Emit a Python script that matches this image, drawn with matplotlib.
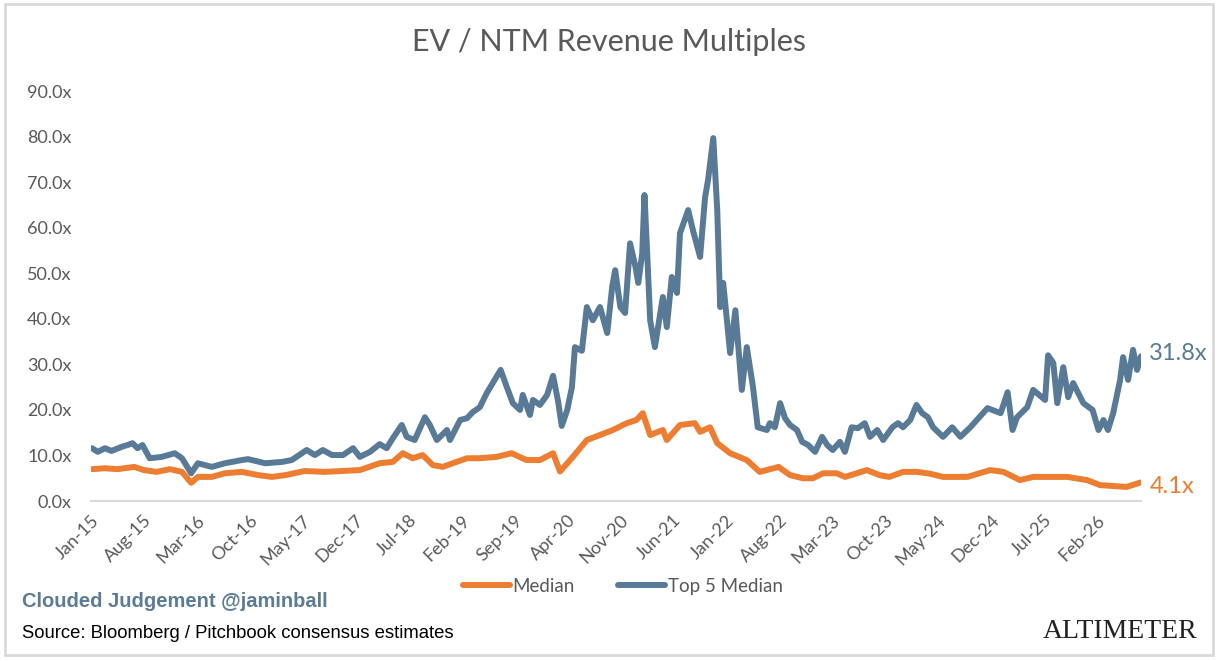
import matplotlib
matplotlib.use("Agg")
import matplotlib.pyplot as plt
import pandas as pd
from matplotlib.patches import Rectangle

# ---------------- data ----------------
top5_dates = [
    "2015-01-05", "2015-01-28", "2015-02-26", "2015-03-24", "2015-05-04", "2015-05-28",
    "2015-06-17", "2015-07-07", "2015-07-27", "2015-08-25", "2015-10-13", "2015-12-04",
    "2016-01-02", "2016-02-08", "2016-03-06", "2016-05-01", "2016-06-23", "2016-08-30",
    "2016-09-24", "2016-12-02", "2017-02-09", "2017-03-19", "2017-05-18", "2017-06-20",
    "2017-07-22", "2017-08-28", "2017-10-11", "2017-11-21", "2017-12-18", "2018-01-28",
    "2018-03-08", "2018-04-05", "2018-04-30", "2018-06-05", "2018-06-25", "2018-07-27",
    "2018-09-06", "2018-09-26", "2018-10-24", "2018-12-04", "2018-12-16", "2019-01-26",
    "2019-02-23", "2019-03-17", "2019-04-15", "2019-05-13", "2019-06-14", "2019-07-08",
    "2019-08-02", "2019-08-26", "2019-09-24", "2019-10-05", "2019-11-03", "2019-11-15",
    "2019-12-13", "2020-01-11", "2020-02-04", "2020-02-24", "2020-03-10", "2020-04-01",
    "2020-04-20", "2020-05-02", "2020-05-30", "2020-06-19", "2020-07-13", "2020-08-11",
    "2020-09-09", "2020-09-29", "2020-10-11", "2020-11-01", "2020-11-20", "2020-12-10",
    "2021-01-01", "2021-01-12", "2021-01-28", "2021-02-06", "2021-02-17", "2021-03-01",
    "2021-03-20", "2021-04-21", "2021-05-07", "2021-05-27", "2021-06-17", "2021-06-29",
    "2021-08-01", "2021-08-20", "2021-09-18", "2021-10-08", "2021-10-20", "2021-11-10",
    "2021-11-26", "2021-12-08", "2021-12-20", "2022-01-17", "2022-02-07", "2022-03-05",
    "2022-03-25", "2022-04-19", "2022-05-08", "2022-06-14", "2022-06-26", "2022-07-16",
    "2022-08-06", "2022-08-26", "2022-09-15", "2022-10-13", "2022-11-03", "2022-11-27",
    "2022-12-25", "2023-01-22", "2023-02-12", "2023-03-06", "2023-04-04", "2023-04-24",
    "2023-05-21", "2023-06-15", "2023-07-13", "2023-08-03", "2023-09-01", "2023-09-25",
    "2023-11-01", "2023-11-24", "2023-12-14", "2024-01-12", "2024-02-06", "2024-02-29",
    "2024-03-23", "2024-04-13", "2024-05-23", "2024-06-29", "2024-08-01", "2024-09-10",
    "2024-11-18", "2025-01-10", "2025-02-07", "2025-02-27", "2025-03-17", "2025-04-27",
    "2025-05-21", "2025-07-08", "2025-07-20", "2025-08-10", "2025-08-26", "2025-09-19",
    "2025-10-09", "2025-10-29", "2025-12-09", "2026-01-15", "2026-02-08", "2026-02-28",
    "2026-03-18", "2026-04-08", "2026-05-06", "2026-05-18", "2026-06-07", "2026-06-27",
    "2026-07-13", "2026-07-29",
]
top5_values = [
    11.6, 10.8, 11.6, 11.0, 11.9, 12.3,
    12.7, 11.6, 12.3, 9.4, 9.7, 10.5,
    9.4, 6.1, 8.3, 7.5, 8.3, 9.0,
    9.2, 8.3, 8.6, 9.0, 11.2, 10.1,
    11.2, 10.1, 10.1, 11.6, 9.7, 10.8,
    12.5, 11.6, 13.8, 16.7, 14.1, 13.4,
    18.4, 16.7, 13.4, 15.6, 13.4, 17.8,
    18.2, 19.5, 20.6, 23.7, 26.6, 28.8,
    25.0, 21.5, 20.0, 23.3, 18.9, 22.2,
    21.1, 23.3, 27.5, 22.0, 16.5, 20.0,
    25.0, 33.8, 33.0, 42.6, 39.7, 42.6,
    36.9, 47.0, 50.7, 42.6, 41.3, 56.6,
    51.4, 47.9, 54.4, 67.2, 54.4, 39.7,
    33.8, 44.8, 38.2, 49.2, 45.7, 58.8,
    63.9, 59.5, 53.6, 66.7, 70.5, 79.7,
    63.9, 42.6, 47.9, 32.5, 41.9, 24.4,
    33.8, 25.0, 16.2, 15.6, 17.1, 16.2,
    21.5, 18.2, 16.7, 15.6, 13.0, 12.3,
    10.8, 14.1, 12.3, 11.2, 13.0, 10.8,
    16.2, 16.0, 17.1, 14.1, 15.6, 13.4,
    16.2, 17.1, 16.2, 17.8, 21.1, 19.3,
    18.4, 16.2, 14.1, 16.2, 14.1, 16.2,
    20.4, 19.3, 23.9, 15.6, 18.4, 20.6,
    24.4, 22.2, 32.0, 30.3, 21.5, 29.4,
    22.8, 25.9, 21.5, 20.0, 15.6, 17.8,
    15.6, 19.3, 26.6, 31.6, 26.6, 33.2,
    28.8, 31.8,
]

median_dates = [
    "2015-01-05", "2015-02-26", "2015-04-17", "2015-06-24", "2015-08-02", "2015-09-22",
    "2015-11-15", "2016-01-02", "2016-02-08", "2016-03-06", "2016-05-01", "2016-06-23",
    "2016-08-30", "2016-11-04", "2016-12-29", "2017-02-22", "2017-05-10", "2017-07-28",
    "2017-10-11", "2017-12-18", "2018-03-08", "2018-04-30", "2018-06-09", "2018-07-19",
    "2018-08-28", "2018-10-08", "2018-11-17", "2018-12-27", "2019-02-23", "2019-04-15",
    "2019-06-22", "2019-08-21", "2019-10-20", "2019-12-13", "2020-02-04", "2020-03-03",
    "2020-04-24", "2020-06-19", "2020-08-11", "2020-10-02", "2020-11-27", "2021-01-05",
    "2021-01-30", "2021-03-01", "2021-04-21", "2021-05-07", "2021-06-29", "2021-08-28",
    "2021-09-18", "2021-10-28", "2021-11-26", "2022-01-17", "2022-03-25", "2022-05-16",
    "2022-07-31", "2022-09-15", "2022-11-06", "2022-12-16", "2023-01-26", "2023-03-22",
    "2023-04-24", "2023-06-11", "2023-07-21", "2023-09-10", "2023-10-20", "2023-12-14",
    "2024-02-09", "2024-04-01", "2024-05-23", "2024-08-29", "2024-11-29", "2025-01-21",
    "2025-03-29", "2025-05-21", "2025-10-05", "2025-12-24", "2026-02-14", "2026-06-01",
    "2026-07-29",
]
median_values = [
    7.0, 7.2, 7.0, 7.5, 6.8, 6.4,
    7.0, 6.4, 4.0, 5.3, 5.3, 6.1,
    6.4, 5.7, 5.3, 5.7, 6.6, 6.4,
    6.6, 6.8, 8.3, 8.6, 10.5, 9.4,
    10.1, 7.9, 7.5, 8.3, 9.4, 9.4,
    9.7, 10.5, 9.0, 9.0, 10.5, 6.5,
    9.7, 13.4, 14.5, 15.6, 17.1, 17.8,
    19.3, 14.5, 15.6, 13.4, 16.7, 17.1,
    15.2, 16.2, 12.7, 10.5, 9.0, 6.4,
    7.5, 5.7, 5.0, 5.0, 6.1, 6.1,
    5.3, 6.1, 6.8, 5.7, 5.3, 6.4,
    6.4, 6.0, 5.3, 5.3, 6.8, 6.4,
    4.6, 5.3, 5.3, 4.6, 3.5, 3.1,
    4.1,
]

tick_labels = ["Jan-15", "Aug-15", "Mar-16", "Oct-16", "May-17", "Dec-17", "Jul-18",
               "Feb-19", "Sep-19", "Apr-20", "Nov-20", "Jun-21", "Jan-22", "Aug-22",
               "Mar-23", "Oct-23", "May-24", "Dec-24", "Jul-25", "Feb-26"]
y_ticks = [0, 10, 20, 30, 40, 50, 60, 70, 80, 90]
last_top5_label = "31.8x"
last_median_label = "4.1x"

# ---------------- styling ----------------
BLUE = "#587A96"
ORANGE = "#ED7D31"
GREY = "#595959"
FONT = ["Lato", "DejaVu Sans"]

plt.rcParams["font.family"] = FONT

fig = plt.figure(figsize=(12.19, 6.61), dpi=100)
fig.patch.set_facecolor("white")

# outer frame
fig.patches.append(Rectangle((0.004, 0.009), 0.991, 0.985, transform=fig.transFigure,
                             fill=False, edgecolor="#D9D9D9", linewidth=2))

ax = fig.add_axes([0.0747, 0.242, 0.8613, 0.620])

td = pd.to_datetime(top5_dates)
md = pd.to_datetime(median_dates)

ax.plot(md, median_values, color=ORANGE, linewidth=4.3, solid_joinstyle="round",
        solid_capstyle="round", label="Median")
ax.plot(td, top5_values, color=BLUE, linewidth=4.3, solid_joinstyle="round",
        solid_capstyle="round", label="Top 5 Median")

ax.set_ylim(0, 90)
ax.set_yticks(y_ticks)
ax.set_yticklabels([f"{v:.1f}x" for v in y_ticks])
ax.set_xlim(pd.Timestamp("2015-01-01"), td[-1])

tick_dates = pd.to_datetime(["01-" + t for t in tick_labels], format="%d-%b-%y")
ax.set_xticks(tick_dates)
ax.set_xticklabels(tick_labels, rotation=45, ha="right", rotation_mode="anchor")

for s in ["top", "right", "left"]:
    ax.spines[s].set_visible(False)
ax.spines["bottom"].set_color("#D9D9D9")
ax.spines["bottom"].set_linewidth(1.6)
ax.tick_params(axis="both", length=0, colors=GREY, labelsize=13)
ax.tick_params(axis="y", pad=14)
ax.tick_params(axis="x", pad=8)

# end labels
ax.annotate(last_top5_label, xy=(td[-1], top5_values[-1]), xytext=(6, 2),
            textcoords="offset points", va="center", ha="left", color=BLUE, fontsize=17)
ax.annotate(last_median_label, xy=(md[-1], median_values[-1]), xytext=(6, -3),
            textcoords="offset points", va="center", ha="left", color=ORANGE, fontsize=17)

fig.text(0.5, 0.936, "EV / NTM Revenue Multiples", ha="center", va="center",
         fontsize=22, color=GREY)

leg = fig.legend(loc="center", bbox_to_anchor=(0.511, 0.113), ncol=2, frameon=False,
                 fontsize=13.5, handlelength=2.5, columnspacing=2.3, handletextpad=0.15)
for t in leg.get_texts():
    t.set_color(GREY)

fig.text(0.018, 0.090, "Clouded Judgement @jaminball", ha="left", va="center",
         fontsize=14.5, fontweight="bold", color="#5B7B96",
         family=["Liberation Sans Narrow", "Liberation Sans", "DejaVu Sans"])
fig.text(0.018, 0.042, "Source: Bloomberg / Pitchbook consensus estimates", ha="left",
         va="center", fontsize=13.3, color="black",
         family=["Liberation Sans Narrow", "Liberation Sans", "DejaVu Sans"])
fig.text(0.982, 0.045, "ALTIMETER", ha="right", va="center", fontsize=20,
         color="#222222", family=["Liberation Serif", "DejaVu Serif"])

fig.savefig("out.png", dpi=100, facecolor="white")
